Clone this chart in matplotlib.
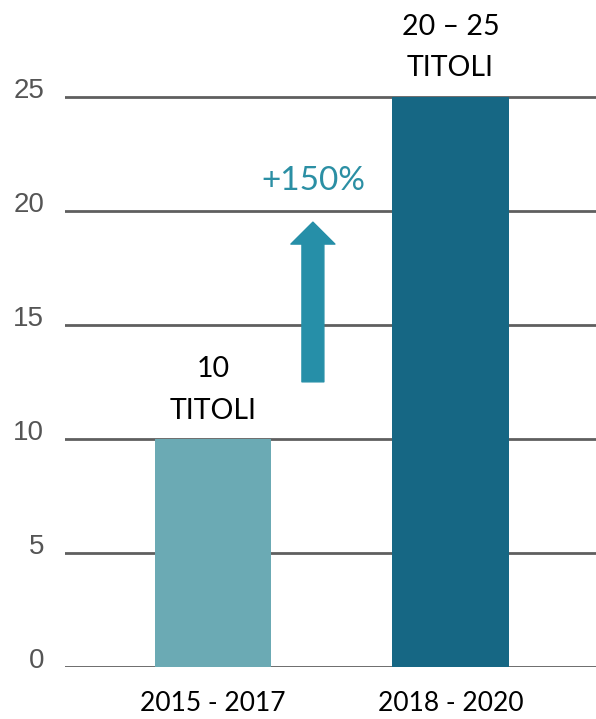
import matplotlib.pyplot as plt
from matplotlib.patches import FancyArrowPatch
from matplotlib.transforms import ScaledTranslation

# data
periods = ["2015 - 2017", "2018 - 2020"]
values = [10, 25]
bar_labels = ["10\nTITOLI", "20 \u2013 25\nTITOLI"]
yticks = [0, 5, 10, 15, 20, 25]
growth_label = "+150%"
arrow_from = 12.5
arrow_to = 19.5

bar_colors = ["#6BAAB4", "#166784"]
arrow_color = "#268FA8"
grid_color = "#5F5F5F"

fig = plt.figure(figsize=(5.96, 7.19), dpi=100)
ax = fig.add_axes([0.109, 0.0723, 0.891, 0.825])

x = list(range(len(periods)))
ax.bar(x, values, width=0.49, color=bar_colors, zorder=3)

# horizontal gridlines
for t in yticks:
    ax.axhline(t, color=grid_color, lw=2, zorder=2)

ax.set_xlim(-0.623, 1.613)
ax.set_ylim(0, 26)

for s in ax.spines.values():
    s.set_visible(False)

ax.set_yticks(yticks)
ax.set_yticklabels([str(t) for t in yticks], fontsize=20, color="#555555",
                   family=["Liberation Sans", "DejaVu Sans"])
ax.tick_params(axis="y", length=0, pad=15)
shift = ScaledTranslation(0, 9 / 100, fig.dpi_scale_trans)
for lab in ax.get_yticklabels():
    lab.set_transform(lab.get_transform() + shift)

ax.set_xticks(x)
ax.set_xticklabels(periods, fontsize=19, color="black", family=["Lato", "DejaVu Sans"])
ax.tick_params(axis="x", length=0, pad=17)

# value labels above bars
for xi, v, lab in zip(x, values, bar_labels):
    ax.annotate(lab, (xi, v), xytext=(0, 11), textcoords="offset points",
                ha="center", va="bottom", fontsize=20.5, linespacing=1.75,
                family=["Lato", "DejaVu Sans"], color="black")

# growth arrow
ax_x = 0.421
arrow = FancyArrowPatch((ax_x, arrow_from), (ax_x, arrow_to),
                        arrowstyle="simple,head_width=31.7,head_length=15.8,tail_width=15.8",
                        color=arrow_color, shrinkA=0, shrinkB=0, zorder=4)
ax.add_patch(arrow)
ax.text(ax_x, 21.3, growth_label, ha="center", va="center", fontsize=24,
        color="#2B8FA4", family=["Lato", "DejaVu Sans"])

fig.savefig("out.png", dpi=100)
